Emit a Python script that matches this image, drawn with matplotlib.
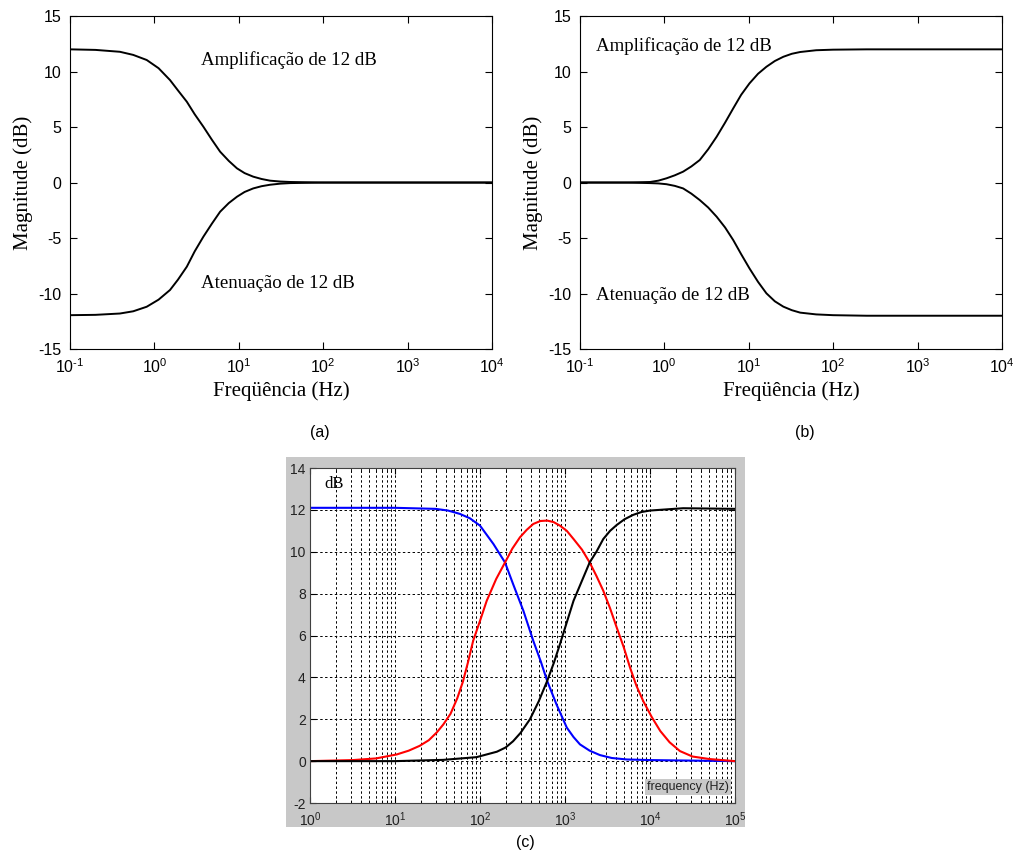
import numpy as np
import matplotlib.pyplot as plt
from matplotlib.patches import Rectangle
from matplotlib.ticker import LogLocator, NullLocator, FuncFormatter

plt.rcParams['font.family'] = ['Liberation Sans', 'DejaVu Sans']
plt.rcParams['mathtext.fontset'] = 'custom'
plt.rcParams['mathtext.rm'] = 'Liberation Sans'
plt.rcParams['mathtext.it'] = 'Liberation Sans'
plt.rcParams['axes.unicode_minus'] = False

# (a) prateleira de graves
freq_a = [0.1, 0.2, 0.39, 0.56, 0.81, 1.12, 1.53, 1.9, 2.42, 3.0, 3.8, 4.8, 6.0, 7.6,
          9.5, 11.7, 14.8, 18.6, 23.4, 31, 40.7, 100, 1e4]
amp_a = [12.0, 11.95, 11.78, 11.5, 11.04, 10.3, 9.23, 8.3, 7.28, 6.15, 5.03, 3.85, 2.78, 1.95,
         1.28, 0.85, 0.53, 0.32, 0.17, 0.09, 0.05, 0.0, 0.0]
att_a = [-11.95, -11.92, -11.8, -11.6, -11.19, -10.55, -9.68, -8.75, -7.58, -6.2, -4.88, -3.7, -2.63, -1.85,
         -1.28, -0.85, -0.53, -0.33, -0.2, -0.1, -0.05, 0.0, 0.0]

# (b) prateleira de agudos
freq_b = [0.1, 0.35, 0.68, 0.85, 1.06, 1.33, 1.67, 2.09, 2.63, 3.31, 4.17, 5.25, 6.55, 8.13,
          10.2, 12.9, 16.2, 20.4, 25.7, 32.4, 40.7, 63, 100, 250, 1e4]
amp_b = [0.0, 0.0, 0.05, 0.17, 0.38, 0.65, 0.98, 1.45, 2.03, 3.0, 4.13, 5.4, 6.68, 7.9,
         8.93, 9.8, 10.43, 10.95, 11.33, 11.6, 11.76, 11.92, 11.97, 12.0, 12.0]
att_b = [0.0, 0.0, -0.05, -0.08, -0.15, -0.3, -0.53, -1.0, -1.58, -2.25, -3.08, -4.05, -5.18, -6.45,
         -7.73, -8.95, -9.98, -10.7, -11.18, -11.5, -11.72, -11.88, -11.95, -12.0, -12.0]

# (c) tres bandas
freq_low = [1, 10, 30, 42, 58, 76, 100, 144, 197, 245, 324, 424, 520, 617, 794, 1050, 1260,
            1500, 1950, 2570, 3550, 5300, 1e4, 1e5]
db_low = [12.1, 12.1, 12.05, 11.97, 11.81, 11.6, 11.25, 10.37, 9.49, 8.46, 7.18, 5.74, 4.75, 3.83,
          2.71, 1.6, 1.15, 0.8, 0.5, 0.29, 0.15, 0.08, 0.05, 0.0]
freq_mid = [1, 3.2, 6, 10.5, 14.5, 19.5, 25, 31, 37, 45, 54, 63, 72, 83, 100, 120, 155, 197, 240,
            295, 355, 424, 513, 617, 733, 871, 1050, 1260, 1585, 1950, 2340, 2820, 3390, 4060,
            4900, 5820, 6920, 8320, 10500, 13200, 17000, 22500, 31600, 50000, 1e5]
db_mid = [0.0, 0.05, 0.13, 0.32, 0.5, 0.73, 1.0, 1.37, 1.75, 2.26, 3.0, 3.8, 4.7, 5.74, 6.7, 7.66,
          8.7, 9.49, 10.15, 10.69, 11.05, 11.33, 11.47, 11.49, 11.42, 11.25, 11.0, 10.61, 10.1,
          9.49, 8.85, 8.14, 7.3, 6.38, 5.45, 4.47, 3.6, 2.87, 2.1, 1.44, 0.9, 0.48, 0.22, 0.1, 0.0]
freq_high = [1, 10, 37, 91, 158, 200, 245, 300, 387, 490, 617, 740, 871, 1260, 1950, 2340, 2820,
             3390, 4060, 5000, 6310, 7940, 1e4, 24500, 1e5]
db_high = [0.0, 0.0, 0.06, 0.19, 0.45, 0.65, 0.95, 1.35, 2.0, 2.85, 3.83, 4.7, 5.58, 7.66, 9.49,
           10.0, 10.61, 11.0, 11.28, 11.55, 11.76, 11.9, 11.97, 12.08, 12.05]

fig = plt.figure(figsize=(10.21, 8.58), dpi=100)

serif = ['Liberation Serif', 'DejaVu Serif']


def pot10(v, pos):
    e = int(round(np.log10(v)))
    return r'$10^{\text{%d}}$' % e


def painel(rect, freq, amp, att, txt_amp, txt_att):
    ax = fig.add_axes(rect)
    ax.semilogx(freq, amp, color='black', lw=1.4)
    ax.semilogx(freq, att, color='black', lw=1.4)
    ax.set_xlim(0.1, 1e4)
    ax.set_ylim(-15, 15)
    ax.set_yticks([-15, -10, -5, 0, 5, 10, 15])
    ax.xaxis.set_major_locator(LogLocator(base=10, numticks=10))
    ax.xaxis.set_minor_locator(NullLocator())
    ax.tick_params(direction='in', top=True, right=True, length=5, labelsize=11.5, pad=6)
    ax.set_xlabel('Freqüência (Hz)', family=serif, fontsize=15, labelpad=4)
    ax.set_ylabel('Magnitude (dB)', family=serif, fontsize=15, labelpad=4)
    ax.text(*txt_amp[0], txt_amp[1], family=serif, fontsize=13.6, va='center')
    ax.text(*txt_att[0], txt_att[1], family=serif, fontsize=13.6, va='center')
    for s in ax.spines.values():
        s.set_linewidth(0.8)
    return ax


painel([0.0686, 0.5932, 0.4133, 0.3881], freq_a, amp_a, att_a,
       ((3.6, 11.0), 'Amplificação de 12 dB'), ((3.6, -9.1), 'Atenuação de 12 dB'))
painel([0.568, 0.5932, 0.4133, 0.3881], freq_b, amp_b, att_b,
       ((0.155, 12.3), 'Amplificação de 12 dB'), ((0.155, -10.2), 'Atenuação de 12 dB'))

fig.text(320 / 1021, 1 - 433 / 858, '(a)', ha='center', va='center', fontsize=11.5)
fig.text(805 / 1021, 1 - 433 / 858, '(b)', ha='center', va='center', fontsize=11.5)
fig.text(525 / 1021, 1 - 843 / 858, '(c)', ha='center', va='center', fontsize=11.5)

# fundo cinza do painel (c)
fig.patches.append(Rectangle((286 / 1021, 1 - 827 / 858), 459 / 1021, 370 / 858,
                             transform=fig.transFigure, facecolor='#c8c8c8', edgecolor='none', zorder=-1))

axc = fig.add_axes([0.3036, 0.0641, 0.4163, 0.3904])
axc.set_zorder(1)
axc.set_facecolor('white')
axc.semilogx(freq_low, db_low, color='#0000ff', lw=1.5)
axc.semilogx(freq_mid, db_mid, color='#ff0000', lw=1.5)
axc.semilogx(freq_high, db_high, color='black', lw=1.5)
axc.set_xlim(1, 1e5)
axc.set_ylim(-2, 14)
axc.set_yticks(np.arange(-2, 15, 2))
axc.xaxis.set_major_locator(LogLocator(base=10, numticks=10))
axc.xaxis.set_minor_locator(LogLocator(base=10, subs=np.arange(2, 10), numticks=20))
axc.grid(True, which='both', axis='x', color='black', ls=(0, (2.5, 2.5)), lw=0.7)
axc.grid(True, which='major', axis='y', color='black', ls=(0, (2.5, 2.5)), lw=0.7)
axc.tick_params(which='both', direction='in', top=True, right=True, labelsize=10, labelcolor='#222222')
axc.tick_params(which='major', length=4, pad=3)
axc.tick_params(axis='x', which='major', pad=5)
axc.tick_params(which='minor', length=2)
for s in axc.spines.values():
    s.set_color('#404040')
    s.set_linewidth(0.8)
axc.text(0.035, 0.975, 'dB', transform=axc.transAxes, family=serif, fontsize=12, va='top')
axc.text(0.985, 0.03, 'frequency (Hz)', transform=axc.transAxes, ha='right', va='bottom',
         fontsize=9, color='#222222',
         bbox=dict(facecolor='#c8c8c8', edgecolor='none', pad=1.5))

for ax in fig.axes:
    ax.xaxis.set_major_formatter(FuncFormatter(pot10))

fig.savefig('out.png', dpi=100)
